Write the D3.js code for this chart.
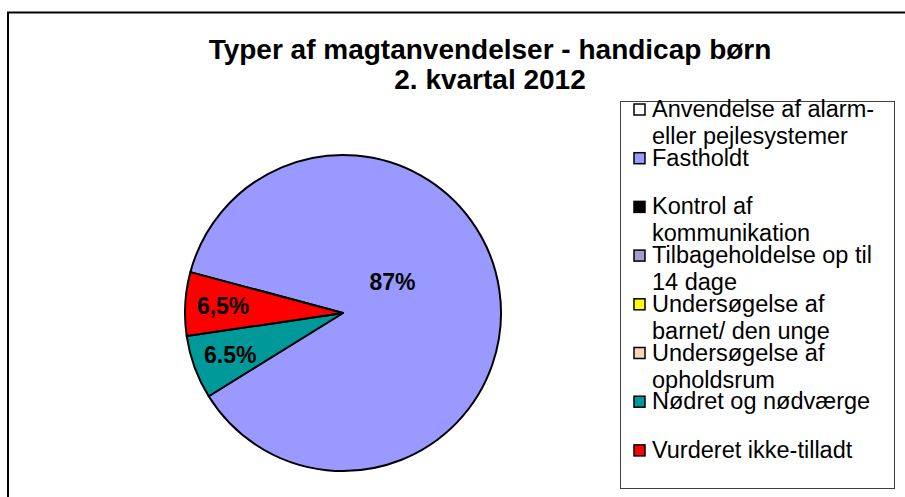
<!DOCTYPE html>
<html>
<head>
<meta charset="utf-8">
<script src="https://cdn.jsdelivr.net/npm/d3@7"></script>
<style>
  body { margin: 0; background: #fff; }
  svg { display: block; font-family: "Liberation Sans", Arial, sans-serif; }
</style>
</head>
<body>
<script>
// chart data
var titleLines = ["Typer af magtanvendelser - handicap børn", "2. kvartal 2012"];
var categories = ["Anvendelse af alarm- eller pejlesystemer", "Fastholdt", "Kontrol af kommunikation",
                  "Tilbageholdelse op til 14 dage", "Undersøgelse af barnet/ den unge",
                  "Undersøgelse af opholdsrum", "Nødret og nødværge", "Vurderet ikke-tilladt"];
var values = [0, 87, 0, 0, 0, 0, 6.5, 6.5];
var sliceLabels = ["", "87%", "", "", "", "", "6.5%", "6,5%"];

var colorArray = ['#FFFFFF', '#9999FF', '#000000', '#A99BC9', '#FFFF00', '#FCD5B5', '#009999', '#FF0000'];

function drawChart(width, height){

  var svg = d3.select("body")
              .append("svg")
              .attr("width", width)
              .attr("height", height);

  // outer frame (runs off right and bottom)
  svg.append("rect")
    .attr("x", 8)
    .attr("y", 12.5)
    .attr("width", width + 20)
    .attr("height", height + 20)
    .attr("fill", "none")
    .attr("stroke", "#000")
    .attr("stroke-width", 2);

  // title
  svg.selectAll("text.title")
    .data(titleLines)
    .enter()
    .append("text")
    .attr("class", "title")
    .attr("x", 490)
    .attr("y", function(d, i) { return 59 + i * 30; })
    .attr("text-anchor", "middle")
    .style("font-size", "28px")
    .style("font-weight", "bold")
    .text(function(d) { return d; });

  drawPie(svg);
  drawLegend(svg);
}

function drawPie(svg){
  var dataset = categories.map(function(c, i) {
    return {Category: c, Value: values[i], Label: sliceLabels[i], Colour: colorArray[i]};
  });

  var radius = 158;
  var g = svg.append("g")
    .attr("transform", "translate(343,313)");

  var startAngle = -75 * Math.PI / 180;
  var pie = d3.pie()
    .sort(null)
    .value(function(d) { return d.Value; })
    .startAngle(startAngle)
    .endAngle(startAngle + 2 * Math.PI);

  var arcs = pie(dataset).filter(function(d) { return d.data.Value > 0; });

  var arc = d3.arc().innerRadius(0).outerRadius(radius);
  var labelArc = d3.arc().innerRadius(radius * 0.76).outerRadius(radius * 0.76);

  g.selectAll("path")
    .data(arcs)
    .enter()
    .append("path")
    .attr("d", arc)
    .attr("fill", function(d) { return d.data.Colour; })
    .attr("stroke", "#000")
    .attr("stroke-width", 2)
    .attr("stroke-linejoin", "round");

  g.selectAll("text")
    .data(arcs)
    .enter()
    .append("text")
    .attr("transform", function(d) {
      var c;
      if (d.data.Value > 50) {
        // big slice label was dragged towards the centre
        var a = 57.7 * Math.PI / 180;
        c = [Math.sin(a) * radius * 0.37, -Math.cos(a) * radius * 0.37];
      } else {
        c = labelArc.centroid(d);
      }
      return "translate(" + c[0] + "," + c[1] + ")";
    })
    .attr("dy", "0.36em")
    .attr("text-anchor", "middle")
    .style("font-size", "23px")
    .style("font-weight", "bold")
    .text(function(d) { return d.data.Label; });
}

function drawLegend(svg){
  var lg = svg.append("g");

  lg.append("rect")
    .attr("x", 620.5)
    .attr("y", 101.5)
    .attr("width", 274)
    .attr("height", 387)
    .attr("fill", "#fff")
    .attr("stroke", "#404040")
    .attr("stroke-width", 1);

  var item = lg.selectAll("g.item")
    .data(categories)
    .enter()
    .append("g")
    .attr("class", "item")
    .attr("transform", function(d, i) { return "translate(0," + (117 + i * 48.7) + ")"; });

  item.append("rect")
    .attr("x", 634)
    .attr("y", -13)
    .attr("width", 11)
    .attr("height", 11)
    .attr("fill", function(d, i) { return colorArray[i]; })
    .attr("stroke", "#000")
    .attr("stroke-width", 1.5);

  item.append("text")
    .attr("x", 652)
    .style("font-size", "23.5px")
    .each(function(d) { wrap(d3.select(this), d, 238); });
}

// word wrap for legend entries
function wrap(text, str, maxWidth){
  var words = str.split(" ");
  var line = [];
  var lineNo = 0;
  var tspan = text.append("tspan").attr("x", 652).attr("dy", 0);
  words.forEach(function(word) {
    line.push(word);
    tspan.text(line.join(" "));
    if (tspan.node().getComputedTextLength() > maxWidth && line.length > 1) {
      line.pop();
      tspan.text(line.join(" "));
      line = [word];
      lineNo++;
      tspan = text.append("tspan").attr("x", 652).attr("y", lineNo * 27).text(word);
    }
  });
}

drawChart(905, 497);
</script>
</body>
</html>
